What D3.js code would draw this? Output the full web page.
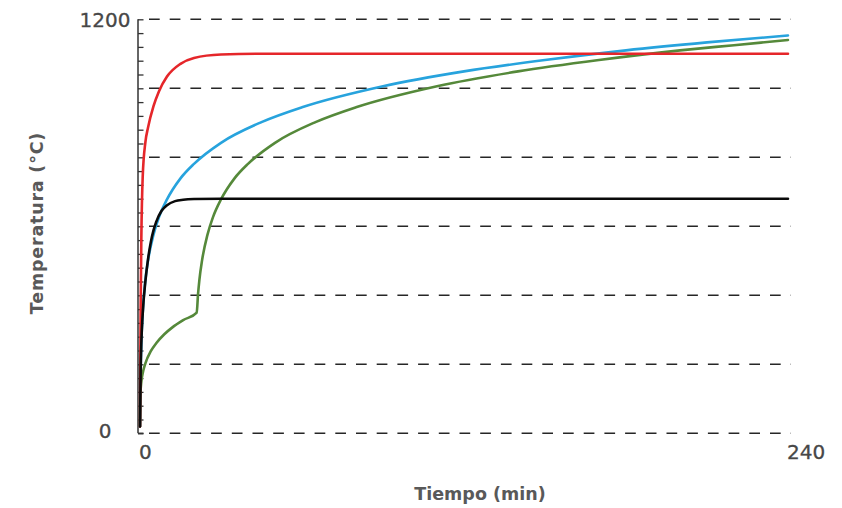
<!DOCTYPE html>
<html>
<head>
<meta charset="utf-8">
<script src="https://cdn.jsdelivr.net/npm/d3@7"></script>
<style>
  html, body { margin: 0; padding: 0; background: #fff; }
  svg { display: block; }
</style>
</head>
<body>
<svg id="chart" width="842" height="508"></svg>
<script>
// ---- data ----
const xTickLabels = [0, 240];
const yTickLabels = [0, 1200];
const yGridValues = [0, 200, 400, 600, 800, 1000, 1200];

// Hydrocarbon curve (red)
const redTime = [0, 0.25, 0.5, 1, 2, 3, 5, 7, 10, 15, 20, 30, 45, 240];
const redTemp = [20, 373, 568, 743, 844, 887, 948, 991, 1034, 1071, 1088, 1098, 1100, 1100];

// Standard curve (blue)
const blueTime = [0, 0.25, 0.5, 1, 2, 3, 5, 7, 10, 15, 20, 30, 45, 60, 90, 120, 150, 180, 210, 240];
const blueTemp = [20, 185, 261, 349, 445, 502, 576, 626, 678, 739, 781, 842, 902, 945, 1006, 1049, 1082, 1110, 1133, 1153];

// External fire curve (black)
const blackTime = [0, 0.25, 0.5, 1, 2, 3, 4, 5, 6, 8, 10, 13, 16, 20, 30, 240];
const blackTemp = [20, 182, 263, 346, 441, 506, 554, 588, 613, 645, 661, 673, 677, 679, 680, 680];

// Slow heating curve (green)
const greenTime = [0, 0.1, 0.5, 1, 2, 4, 6, 9, 12, 16, 21, 21.5, 22, 23, 25, 27, 30, 35, 40, 50, 65, 80, 110, 140, 170, 200, 220, 240];
const greenTemp = [20, 107, 150, 174, 203, 238, 261, 287, 307, 328, 350, 404, 445, 502, 576, 626, 678, 739, 781, 842, 902, 945, 1006, 1049, 1082, 1110, 1125, 1140];

const seriesList = [
  { name: "blue",  time: blueTime,  temp: blueTemp,  color: "#27a3dd" },
  { name: "green", time: greenTime, temp: greenTemp, color: "#55893a" },
  { name: "red",   time: redTime,   temp: redTemp,   color: "#e5262a" },
  { name: "black", time: blackTime, temp: blackTemp, color: "#0a0a0a" }
];

// ---- layout ----
const svg = d3.select("#chart");
const x = d3.scaleLinear().domain([0, 240]).range([140, 788]);
const y = d3.scaleLinear().domain([0, 1200]).range([433.3, 19.3]);
const axisX = 138;
const textColor = "#474747";
const font = "'DejaVu Sans', Verdana, sans-serif";

// gridlines (dashed)
svg.append("g").selectAll("line").data(yGridValues).join("line")
  .attr("x1", 149).attr("x2", 791)
  .attr("y1", d => y(d)).attr("y2", d => y(d))
  .attr("stroke", "#262626").attr("stroke-width", 1.4)
  .attr("stroke-dasharray", "10.7,10");

// y axis line with inward minor ticks every 40
const yAxis = d3.axisRight(y).tickValues(d3.range(0, 1201, 40)).tickSize(5.5).tickFormat("");
const gy = svg.append("g").attr("transform", `translate(${axisX},0)`).call(yAxis);
gy.select(".domain").attr("stroke", "#333").attr("stroke-width", 1.5).attr("d", `M0,${y(1200)}V${y(0)}`);
gy.selectAll(".tick line").attr("stroke", "#333").attr("stroke-width", 1.3);

// bottom tick piece at origin
svg.append("line").attr("x1", axisX).attr("x2", axisX + 5.5)
  .attr("y1", y(0)).attr("y2", y(0)).attr("stroke", "#333").attr("stroke-width", 1.5);

// y tick labels
svg.append("g").selectAll("text").data(yTickLabels).join("text")
  .attr("x", 105)
  .attr("y", d => y(d) + (d === 0 ? 4.5 : 7.3))
  .attr("text-anchor", "middle")
  .attr("font-family", font).attr("font-size", 20)
  .attr("fill", textColor)
  .attr("stroke", textColor).attr("stroke-width", 0.3)
  .text(d => d);

// x tick labels
svg.append("g").selectAll("text").data(xTickLabels).join("text")
  .attr("x", d => x(d) - 1)
  .attr("y", 459)
  .attr("text-anchor", "start")
  .attr("font-family", font).attr("font-size", 20)
  .attr("fill", textColor)
  .attr("stroke", textColor).attr("stroke-width", 0.3)
  .text(d => d);

// axis titles
svg.append("text")
  .attr("x", 480).attr("y", 500)
  .attr("text-anchor", "middle")
  .attr("font-family", font).attr("font-size", 17.5).attr("font-weight", "bold")
  .attr("fill", "#595959")
  .text("Tiempo (min)");

svg.append("text")
  .attr("transform", "translate(43,223) rotate(-90)")
  .attr("text-anchor", "middle")
  .attr("font-family", font).attr("font-size", 17.5).attr("font-weight", "bold")
  .attr("letter-spacing", 0.8)
  .attr("fill", "#595959")
  .text("Temperatura (°C)");

// curves
const line = d3.line().curve(d3.curveMonotoneX);
svg.append("g").selectAll("path").data(seriesList).join("path")
  .attr("d", s => line(s.time.map((t, i) => [x(t), y(s.temp[i])])))
  .attr("fill", "none")
  .attr("stroke", s => s.color)
  .attr("stroke-width", 2.6)
  .attr("stroke-linejoin", "round")
  .attr("stroke-linecap", "round");
</script>
</body>
</html>
